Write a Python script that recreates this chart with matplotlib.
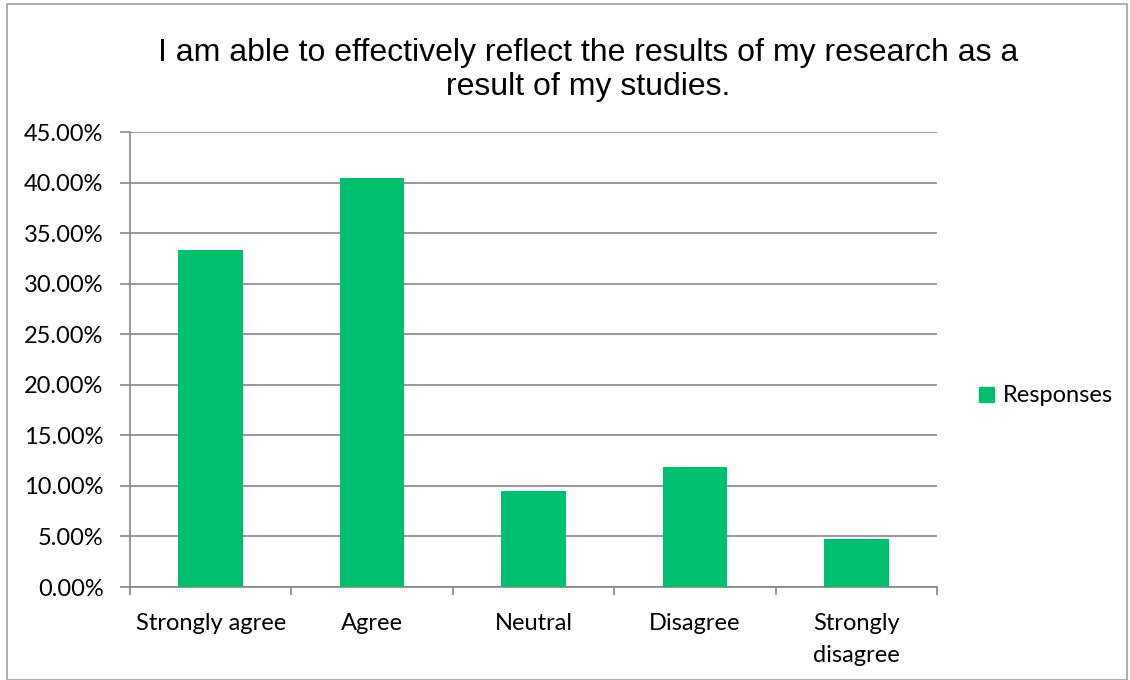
import matplotlib
matplotlib.use("Agg")
import matplotlib.pyplot as plt
from matplotlib.patches import Rectangle
from matplotlib.ticker import FuncFormatter, MultipleLocator

categories = ["Strongly agree", "Agree", "Neutral", "Disagree", "Strongly\ndisagree"]
responses = [33.33, 40.48, 9.52, 11.90, 4.76]
series_name = "Responses"
title = "I am able to effectively reflect the results of my research as a\nresult of my studies."

bar_color = "#00C06F"
grid_color = "#868686"
tick_font = "Lato"
tick_size = 17

fig = plt.figure(figsize=(11.3, 6.8), dpi=100)
fig.patch.set_facecolor("white")
fig.add_artist(Rectangle((7/1130, 0), 1120/1130, 1 - 4/680, transform=fig.transFigure,
                         fill=False, edgecolor="#A0A0A0", linewidth=1.2))

ax = fig.add_axes([130/1130, 1 - 587/680, 807/1130, 455/680])
x = list(range(len(categories)))
ax.bar(x, responses, width=0.4, color=bar_color, label=series_name, zorder=3)
ax.set_xlim(-0.5, len(categories) - 0.5)
ax.set_ylim(0, 45)
ax.yaxis.set_major_locator(MultipleLocator(5))
ax.yaxis.set_major_formatter(FuncFormatter(lambda v, p: f"{v:.2f}%"))
ax.grid(axis="y", color=grid_color, linewidth=1.2, zorder=0)
for s in ["top", "right"]:
    ax.spines[s].set_visible(False)
ax.spines["left"].set_color(grid_color)
ax.spines["bottom"].set_color(grid_color)
ax.spines["left"].set_linewidth(1.2)
ax.spines["bottom"].set_linewidth(1.2)

ax.set_xticks(x)
ax.set_xticklabels(categories, fontfamily=tick_font, fontsize=tick_size, linespacing=1.65)
ax.tick_params(axis="x", length=0, pad=19)
ax.set_xticks([i - 0.5 for i in range(len(categories) + 1)], minor=True)
ax.tick_params(axis="x", which="minor", length=6, color=grid_color, width=1.2)
ax.tick_params(axis="y", length=7, color=grid_color, width=1.2, pad=12)
for lab in ax.get_yticklabels():
    lab.set_fontfamily(tick_font)
    lab.set_fontsize(tick_size)

fig.text(588/1130, 1 - 70/680, title, ha="center", va="center", fontsize=23,
         fontfamily="Liberation Sans", linespacing=1.18)

leg = fig.legend(handles=[Rectangle((0, 0), 1, 1, color=bar_color)], labels=[series_name],
                 loc="center left", bbox_to_anchor=(970/1130, 1 - 396/680), frameon=False,
                 prop={"family": tick_font, "size": tick_size}, handlelength=0.6, handleheight=0.6,
                 handletextpad=0.4, borderaxespad=0)

fig.savefig("out.png", dpi=100)
